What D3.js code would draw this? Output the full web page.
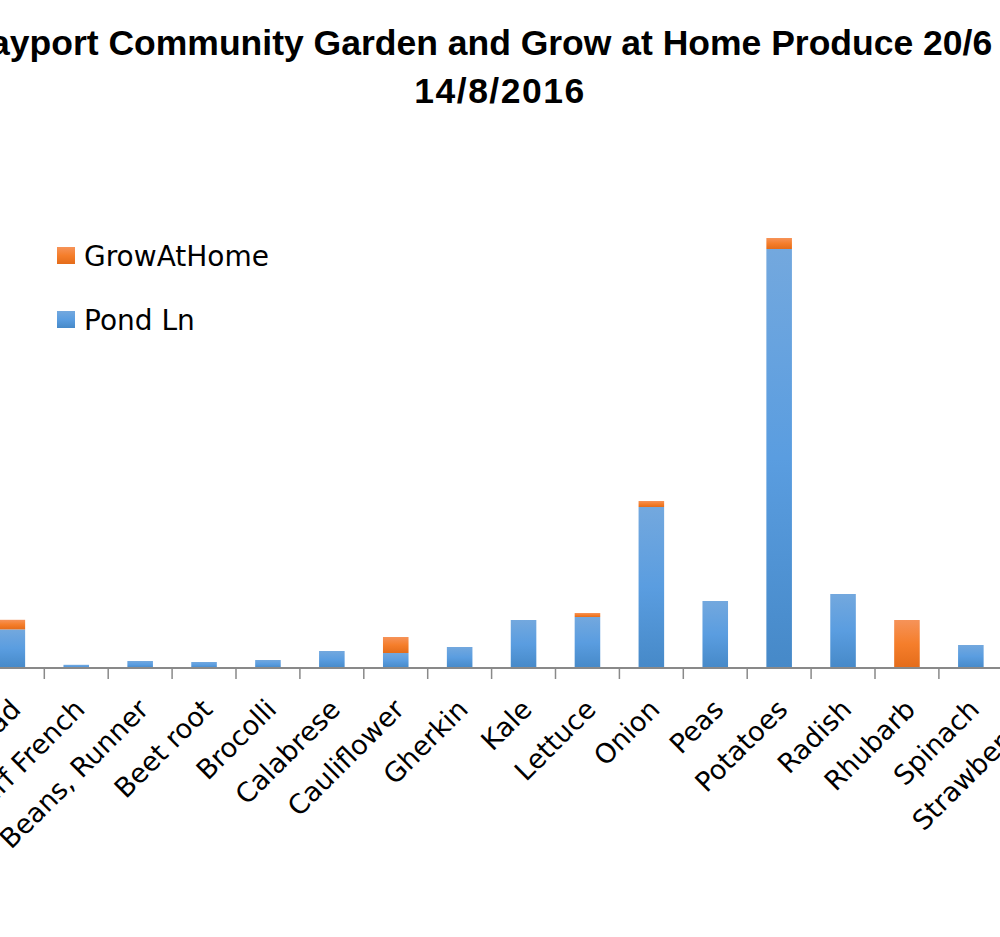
<!DOCTYPE html>
<html>
<head>
<meta charset="utf-8">
<script src="https://cdn.jsdelivr.net/npm/d3@7/dist/d3.min.js"></script>
<style>
  html, body { margin: 0; padding: 0; background: #ffffff; overflow: hidden; }
  svg { display: block; }
</style>
</head>
<body>
<svg id="chart" width="1000" height="937"></svg>
<script>
// ---- data ----
const titleLines = ["Bayport Community Garden and Grow at Home Produce 20/6 to", "14/8/2016"];
const categories = ["Beans, Broad", "Beans, Dwarf French", "Beans, Runner", "Beet root", "Brocolli",
  "Calabrese", "Cauliflower", "Gherkin", "Kale", "Lettuce", "Onion", "Peas", "Potatoes",
  "Radish", "Rhubarb", "Spinach", "Strawberries"];
const pondLn     = [19.3, 1.6, 3.5, 3.0, 4.0, 8.5, 7.5, 10.5, 24.0, 25.5, 80.5, 33.5, 209.5, 37.0, 0.0, 11.5, 6.0];
const growAtHome = [4.8, 0.0, 0.0, 0.0, 0.0, 0.0, 8.0, 0.0, 0.0, 2.0, 3.0, 0.0, 5.5, 0.0, 24.0, 0.0, 0.0];
const seriesNames = ["Pond Ln", "GrowAtHome"];
const yDomain = [0, 250];

// ---- layout ----
const svg = d3.select("#chart");
const axisY = 668, plotTop = 168;
const step = 63.9, firstEdge = 44.3 - 63.9;
const labelFont = "'DejaVu Sans', 'Noto Sans', sans-serif";

const x = d3.scaleBand()
  .domain(categories)
  .range([firstEdge, firstEdge + step * categories.length])
  .paddingInner(0.6).paddingOuter(0.3);
const y = d3.scaleLinear().domain(yDomain).range([axisY, plotTop]);

// gradients
const defs = svg.append("defs");
function grad(id, stops) {
  const g = defs.append("linearGradient").attr("id", id)
    .attr("x1", 0).attr("y1", 0).attr("x2", 0).attr("y2", 1);
  stops.forEach(s => g.append("stop").attr("offset", s[0]).attr("stop-color", s[1]));
}
grad("gBlue", [["0%", "#73a8de"], ["50%", "#5a9de0"], ["100%", "#4689c8"]]);
grad("gOrange", [["0%", "#f69359"], ["50%", "#f57e2b"], ["100%", "#e46c1a"]]);

// title
const title = svg.append("text")
  .attr("text-anchor", "middle")
  .style("font-family", "'Liberation Sans', Arial, sans-serif")
  .style("font-weight", "bold").style("font-size", "35.5px").attr("fill", "#000");
titleLines.forEach((t, i) => title.append("tspan")
  .attr("x", 500).attr("y", 55 + i * 48)
  .style("letter-spacing", i === 1 ? "1.5px" : "0px")
  .text(t));

// stacked bars
const stackData = categories.map((c, i) => ({cat: c, "Pond Ln": pondLn[i], "GrowAtHome": growAtHome[i]}));
const stacked = d3.stack().keys(seriesNames)(stackData);
const fills = {"Pond Ln": "url(#gBlue)", "GrowAtHome": "url(#gOrange)"};

svg.append("g").selectAll("g").data(stacked).join("g")
  .attr("fill", d => fills[d.key])
  .selectAll("rect").data(d => d.filter(p => p[1] - p[0] > 0)).join("rect")
  .attr("x", d => x(d.data.cat))
  .attr("width", x.bandwidth())
  .attr("y", d => y(d[1]))
  .attr("height", d => y(d[0]) - y(d[1]));

// axis line and category boundary ticks
const axisG = svg.append("g");
axisG.append("line")
  .attr("x1", x.range()[0]).attr("x2", x.range()[1])
  .attr("y1", y(0)).attr("y2", y(0))
  .attr("stroke", "#898989").attr("stroke-width", 1.8);
const edges = d3.range(categories.length + 1).map(i => x.range()[0] + i * x.step());
axisG.selectAll("line.tick").data(edges).join("line").attr("class", "tick")
  .attr("x1", d => d).attr("x2", d => d)
  .attr("y1", y(0)).attr("y2", y(0) + 11)
  .attr("stroke", "#898989").attr("stroke-width", 1.5);

// category labels
svg.append("g").selectAll("text").data(categories).join("text")
  .attr("transform", d => `translate(${x(d) + x.bandwidth() / 2 + 10},${y(0) + 43}) rotate(-45)`)
  .attr("text-anchor", "end")
  .style("font-family", labelFont)
  .style("font-size", "27px").attr("fill", "#000")
  .text(d => d);

// legend
const legendItems = [{name: "GrowAtHome", fill: "url(#gOrange)", y: 247},
                     {name: "Pond Ln", fill: "url(#gBlue)", y: 311}];
const lg = svg.append("g").selectAll("g").data(legendItems).join("g");
lg.append("rect").attr("x", 57).attr("y", d => d.y).attr("width", 18).attr("height", 17)
  .attr("fill", d => d.fill);
lg.append("text").attr("x", 84).attr("y", d => d.y + 18.5)
  .style("font-family", labelFont)
  .style("font-size", "28px").attr("fill", "#000")
  .text(d => d.name);
</script>
</body>
</html>
